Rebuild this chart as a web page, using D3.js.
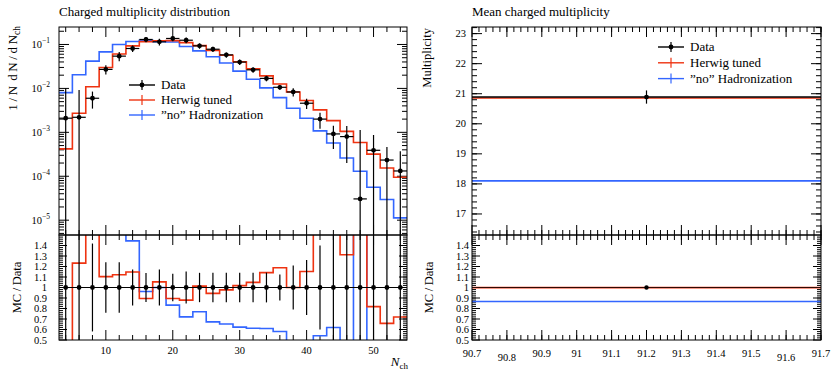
<!DOCTYPE html>
<html>
<meta charset="utf-8">
<head>
  <title>Charged multiplicity</title>
</head>
<style>
  body { margin: 0; background: #fff; }
  svg { font-family: "Liberation Serif", "DejaVu Serif", serif; }
  .frame { fill: none; stroke: #000; stroke-width: 1; }
  .tk { stroke: #000; stroke-width: 1; }
  .lbl { font-size: 10.5px; fill: #000; }
</style>
<script src="https://d3js.org/d3.v7.min.js"></script>
<body>
<svg width="832" height="372"></svg>
<script>
// left: charged multiplicity distribution, bins of width 2 centred on even N_ch
var nch = [4, 6, 8, 10, 12, 14, 16, 18, 20, 22, 24, 26, 28, 30, 32, 34, 36, 38, 40, 42, 44, 46, 48, 50, 52, 54];
var dataVals = [2.1e-3, 2.2e-3, 5.97e-3, 0.0271, 0.0543, 0.081, 0.130, 0.115, 0.137, 0.125, 0.093, 0.078, 0.058,
                0.0397, 0.0265, 0.0169, 0.0106, 8.3e-3, 4.6e-3, 2.0e-3, 9.2e-4, 8.0e-4, 3.05e-5, 3.9e-4, 2.34e-4, 1.32e-4];
var dataErr = [8e-3, 7e-3, 2.5e-3, 6.5e-3, 0.013, 0.0138, 0.018, 0.0196, 0.0178, 0.019, 0.013, 0.011, 0.0081,
               0.0056, 0.0037, 0.0024, 0.0013, 0.00174, 0.0012, 8e-4, 5e-4, 6e-4, 1.1e-3, 4.8e-4, 2.3e-4, 2.4e-4];
var herwig = [4.2e-4, 2.71e-3, 0.0109, 0.0299, 0.0609, 0.093, 0.1163, 0.1212, 0.1226, 0.110, 0.0942, 0.0736, 0.0567,
              0.0404, 0.0278, 0.0193, 0.0126, 8.3e-3, 5.3e-3, 3.24e-3, 1.85e-3, 1.05e-3, 5.87e-4, 3.19e-4, 1.54e-4, 9.5e-5];
var noHad = [8.0e-3, 0.0205, 0.0418, 0.068, 0.1, 0.117, 0.125, 0.115, 0.114, 0.090, 0.0715, 0.0525, 0.0378,
             0.0247, 0.0162, 0.0103, 6.16e-3, 3.53e-3, 2.1e-3, 1.08e-3, 5.7e-4, 2.6e-4, 1.3e-4, 5.6e-5, 2.95e-5, 1.13e-5];

// right: mean charged multiplicity, one bin
var meanBin = [90.7, 91.7];
var meanData = 20.89, meanErr = 0.22;
var meanHerwig = 20.86, meanNoHad = 18.1;

var logTicks = [1e-5, 1e-4, 1e-3, 1e-2, 1e-1];
var ratioTicks = [0.5, 0.6, 0.7, 0.8, 0.9, 1, 1.1, 1.2, 1.3, 1.4];
var xTicksL = [10, 20, 30, 40, 50];
var yTicksR = [17, 18, 19, 20, 21, 22, 23];
var xTicksR = [90.7, 90.8, 90.9, 91, 91.1, 91.2, 91.3, 91.4, 91.5, 91.6, 91.7];

var red = "#EE3311", blue = "#3366FF";

var svg = d3.select("svg");
var yTop = 27, ySplit = 235, yBot = 340;

var x = d3.scaleLinear().domain([3, 55]).range([59, 407]);
var y = d3.scaleLog().domain([4.6e-6, 0.25]).range([ySplit, yTop]);
var yr = d3.scaleLinear().domain([0.5, 1.5]).range([yBot, ySplit]);

var xR = d3.scaleLinear().domain([90.7, 91.7]).range([472, 821]);
var yR = d3.scaleLinear().domain([16.3, 23.22]).range([ySplit, yTop]);

function clip(id, x0, x1, y0, y1) {
  svg.append("clipPath").attr("id", id).append("rect")
    .attr("x", x0).attr("y", y0).attr("width", x1 - x0).attr("height", y1 - y0);
}
clip("cLm", 59, 407, yTop, ySplit);
clip("cLr", 59, 407, ySplit, yBot);
clip("cRm", 472, 821, yTop, ySplit);
clip("cRr", 472, 821, ySplit, yBot);

// ticks drawn inside the frame on both sides
function vTicks(g, sc, vals, len, xa, xb) {
  vals.forEach(function(v) {
    var p = sc(v);
    g.append("line").attr("class", "tk").attr("x1", xa).attr("x2", xa + len).attr("y1", p).attr("y2", p);
    g.append("line").attr("class", "tk").attr("x1", xb).attr("x2", xb - len).attr("y1", p).attr("y2", p);
  });
}
function hTicks(g, sc, vals, len, ya, yb) {
  vals.forEach(function(v) {
    var p = sc(v);
    g.append("line").attr("class", "tk").attr("y1", ya).attr("y2", ya + len).attr("x1", p).attr("x2", p);
    g.append("line").attr("class", "tk").attr("y1", yb).attr("y2", yb - len).attr("x1", p).attr("x2", p);
  });
}

var tg = svg.append("g");
// left x ticks
var xMinL = d3.range(4, 55, 2).filter(function(d) { return d % 10; });
hTicks(tg, x, xMinL, 5, yTop, ySplit);
hTicks(tg, x, xTicksL, 10, yTop, ySplit);
hTicks(tg, x, xMinL, 5, ySplit, yBot);
hTicks(tg, x, xTicksL, 10, ySplit, yBot);
// left log y ticks
var logMinor = [];
[1e-6, 1e-5, 1e-4, 1e-3, 1e-2, 1e-1].forEach(function(d) {
  for (var k = 2; k < 10; k++) { var v = d * k; if (v > 4.6e-6 && v < 0.25) logMinor.push(v); }
});
vTicks(tg, y, logMinor, 5, 59, 407);
vTicks(tg, y, logTicks, 10, 59, 407);
// ratio y ticks
var rMinor = d3.range(0.52, 1.5, 0.02);
vTicks(tg, yr, rMinor, 4, 59, 407);
vTicks(tg, yr, ratioTicks, 8, 59, 407);
vTicks(tg, yr, rMinor, 4, 472, 821);
vTicks(tg, yr, ratioTicks, 8, 472, 821);
// right ticks
var xMinR = d3.range(90.72, 91.7, 0.02);
hTicks(tg, xR, xMinR, 5, yTop, ySplit);
hTicks(tg, xR, xTicksR, 10, yTop, ySplit);
hTicks(tg, xR, xMinR, 5, ySplit, yBot);
hTicks(tg, xR, xTicksR, 10, ySplit, yBot);
var yMinR = d3.range(16.4, 23.22, 0.2);
vTicks(tg, yR, yMinR, 5, 472, 821);
vTicks(tg, yR, yTicksR, 10, 472, 821);

// ---- left main panel ----
function stepPts(vals) {
  var pts = nch.map(function(n, i) { return [n - 1, vals[i]]; });
  pts.push([nch[nch.length - 1] + 1, vals[vals.length - 1]]);
  return pts;
}
function stepLine(sy) {
  return d3.line().x(function(d) { return x(d[0]); }).y(function(d) { return sy(d[1]); }).curve(d3.curveStepAfter);
}

var gm = svg.append("g").attr("clip-path", "url(#cLm)");
gm.append("path").attr("d", stepLine(y)(stepPts(noHad))).attr("fill", "none").attr("stroke", blue).attr("stroke-width", 1.6);
gm.append("path").attr("d", stepLine(y)(stepPts(herwig))).attr("fill", "none").attr("stroke", red).attr("stroke-width", 1.6);

var pts = nch.map(function(n, i) { return { n: n, v: dataVals[i], e: dataErr[i] }; });
gm.selectAll(".eh").data(pts).enter().append("line")
  .attr("x1", function(d) { return x(d.n - 1); }).attr("x2", function(d) { return x(d.n + 1); })
  .attr("y1", function(d) { return y(d.v); }).attr("y2", function(d) { return y(d.v); })
  .attr("stroke", "#000").attr("stroke-width", 1.2);
gm.selectAll(".ev").data(pts).enter().append("line")
  .attr("x1", function(d) { return x(d.n); }).attr("x2", function(d) { return x(d.n); })
  .attr("y1", function(d) { return y(d.v + d.e); })
  .attr("y2", function(d) { return d.v - d.e > 0 ? y(d.v - d.e) : ySplit + 5; })
  .attr("stroke", "#000").attr("stroke-width", 1.2);
gm.selectAll("circle").data(pts).enter().append("circle")
  .attr("cx", function(d) { return x(d.n); }).attr("cy", function(d) { return y(d.v); }).attr("r", 2.4);

// ---- left ratio panel ----
var gr = svg.append("g").attr("clip-path", "url(#cLr)");
var rHer = herwig.map(function(v, i) { return v / dataVals[i]; });
var rNo = noHad.map(function(v, i) { return v / dataVals[i]; });
gr.append("path").attr("d", stepLine(yr)(stepPts(rNo))).attr("fill", "none").attr("stroke", blue).attr("stroke-width", 1.6);
gr.append("path").attr("d", stepLine(yr)(stepPts(rHer))).attr("fill", "none").attr("stroke", red).attr("stroke-width", 1.6);
gr.append("line").attr("x1", x(3)).attr("x2", x(55)).attr("y1", yr(1)).attr("y2", yr(1)).attr("stroke", "#000").attr("stroke-width", 1.2);
gr.selectAll(".rv").data(pts).enter().append("line")
  .attr("x1", function(d) { return x(d.n); }).attr("x2", function(d) { return x(d.n); })
  .attr("y1", function(d) { return yr(1 + d.e / d.v); }).attr("y2", function(d) { return yr(1 - d.e / d.v); })
  .attr("stroke", "#000").attr("stroke-width", 1.2);
gr.selectAll("circle").data(pts).enter().append("circle")
  .attr("cx", function(d) { return x(d.n); }).attr("cy", yr(1)).attr("r", 2.4);

// ---- right panels ----
var gR = svg.append("g").attr("clip-path", "url(#cRm)");
[[meanNoHad, blue], [meanHerwig, red]].forEach(function(s) {
  gR.append("line").attr("x1", xR(meanBin[0])).attr("x2", xR(meanBin[1]))
    .attr("y1", yR(s[0])).attr("y2", yR(s[0])).attr("stroke", s[1]).attr("stroke-width", 1.6);
});
var mC = (meanBin[0] + meanBin[1]) / 2;
gR.append("line").attr("x1", xR(meanBin[0])).attr("x2", xR(meanBin[1]))
  .attr("y1", yR(meanData)).attr("y2", yR(meanData)).attr("stroke", "#000").attr("stroke-width", 1.4);
gR.append("line").attr("x1", xR(mC)).attr("x2", xR(mC))
  .attr("y1", yR(meanData + meanErr)).attr("y2", yR(meanData - meanErr)).attr("stroke", "#000").attr("stroke-width", 1.2);
gR.append("circle").attr("cx", xR(mC)).attr("cy", yR(meanData)).attr("r", 2.4);

var gRr = svg.append("g").attr("clip-path", "url(#cRr)");
[[meanNoHad / meanData, blue], [meanHerwig / meanData, red]].forEach(function(s) {
  gRr.append("line").attr("x1", xR(meanBin[0])).attr("x2", xR(meanBin[1]))
    .attr("y1", yr(s[0])).attr("y2", yr(s[0])).attr("stroke", s[1]).attr("stroke-width", 1.6);
});
gRr.append("line").attr("x1", xR(meanBin[0])).attr("x2", xR(meanBin[1]))
  .attr("y1", yr(1)).attr("y2", yr(1)).attr("stroke", "#000").attr("stroke-width", 1.2).attr("stroke-opacity", 0.8);
gRr.append("circle").attr("cx", xR(mC)).attr("cy", yr(1)).attr("r", 2.2);

// frames
[[59, 407, yTop, ySplit], [59, 407, ySplit, yBot], [472, 821, yTop, ySplit], [472, 821, ySplit, yBot]].forEach(function(f) {
  svg.append("rect").attr("class", "frame").attr("x", f[0]).attr("y", f[2]).attr("width", f[1] - f[0]).attr("height", f[3] - f[2]);
});

// tick labels
var lab = svg.append("g").attr("class", "lbl");
logTicks.forEach(function(v) {
  var t = lab.append("text").attr("x", 50).attr("y", y(v) + 3.5).attr("text-anchor", "end");
  t.append("tspan").text("10");
  t.append("tspan").attr("dy", -4.5).attr("font-size", "7.5px").text("\u2212" + (-Math.round(Math.log10(v))));
});
ratioTicks.forEach(function(v) {
  lab.append("text").attr("x", 47).attr("y", yr(v) + 3.5).attr("text-anchor", "end").text(d3.format("")(v));
  lab.append("text").attr("x", 469).attr("y", yr(v) + 3.5).attr("text-anchor", "end").text(d3.format("")(v));
});
xTicksL.forEach(function(v) {
  lab.append("text").attr("x", x(v)).attr("y", 354).attr("text-anchor", "middle").text(v);
});
yTicksR.forEach(function(v) {
  lab.append("text").attr("x", 466).attr("y", yR(v) + 3.5).attr("text-anchor", "end").text(v);
});
xTicksR.forEach(function(v, i) {
  lab.append("text").attr("x", xR(v)).attr("y", (v === 90.8 || v === 91.6) ? 361 : 357)
    .attr("text-anchor", "middle").text(d3.format(".1f")(v).replace(/\.0$/, ""));
});

// titles and axis labels
svg.append("text").attr("x", 59).attr("y", 16).attr("font-size", "13px").text("Charged multiplicity distribution");
svg.append("text").attr("x", 472).attr("y", 16).attr("font-size", "13px").text("Mean charged multiplicity");

var yl = svg.append("text").attr("transform", "translate(17,26) rotate(-90)").attr("text-anchor", "end").attr("font-size", "13px");
yl.append("tspan").text("1\u2009/\u2009N\u2009\u2009d\u2009N\u2009/\u2009d\u2009N");
yl.append("tspan").attr("dy", 3).attr("font-size", "9.5px").text("ch");
svg.append("text").attr("transform", "translate(21,287.5) rotate(-90)").attr("text-anchor", "middle").attr("font-size", "12.5px").text("MC\u2009/\u2009Data");
svg.append("text").attr("transform", "translate(433,287.5) rotate(-90)").attr("text-anchor", "middle").attr("font-size", "12.5px").text("MC\u2009/\u2009Data");
svg.append("text").attr("transform", "translate(431,28) rotate(-90)").attr("text-anchor", "end").attr("font-size", "12.5px").text("Multiplicity");

var xl = svg.append("text").attr("x", 408).attr("y", 366).attr("text-anchor", "end").attr("font-size", "13px");
xl.append("tspan").attr("font-style", "italic").text("N");
xl.append("tspan").attr("dy", 2.5).attr("font-size", "9px").text("ch");

// legends
function legend(x0, y0, dy) {
  var items = [["Data", "#000", true], ["Herwig tuned", red, false], ["\u201dno\u201d Hadronization", blue, false]];
  items.forEach(function(it, i) {
    var yy = y0 + i * dy;
    var g = svg.append("g");
    g.append("line").attr("x1", x0).attr("x2", x0 + 26).attr("y1", yy).attr("y2", yy).attr("stroke", it[1]).attr("stroke-width", 1.4);
    g.append("line").attr("x1", x0 + 13).attr("x2", x0 + 13).attr("y1", yy - 5).attr("y2", yy + 5).attr("stroke", it[1]).attr("stroke-width", 1.2);
    if (it[2]) g.append("circle").attr("cx", x0 + 13).attr("cy", yy).attr("r", 2.4);
    g.append("text").attr("x", x0 + 32).attr("y", yy + 4.2).attr("font-size", "13px").text(it[0]);
  });
}
legend(129, 85, 15);
legend(658, 47, 15.8);
</script>
</body>
</html>
